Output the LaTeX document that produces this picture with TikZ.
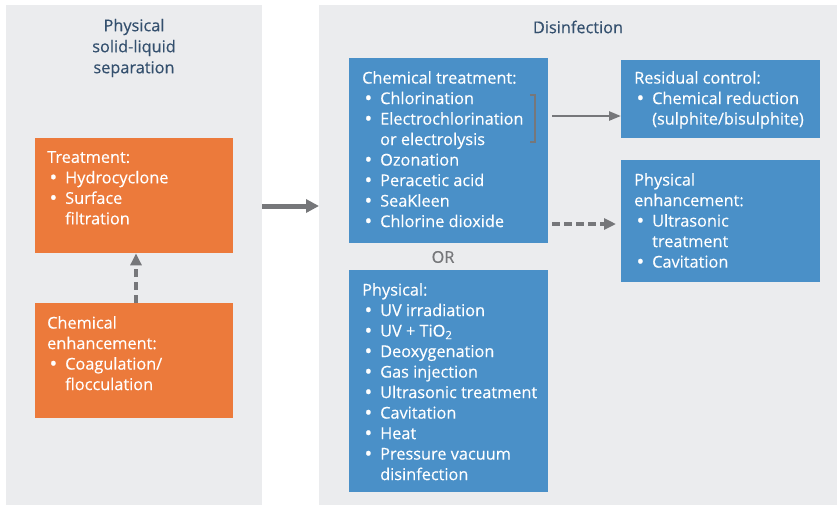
\documentclass[tikz,border=0pt]{standalone}
\usepackage{fontspec}
\usepackage{graphicx}
\setmainfont[FakeBold=0.3]{Open Sans}
\newfontfamily\bulfont[FakeBold=1.6]{Open Sans}
\usetikzlibrary{arrows.meta,positioning}
\definecolor{panelgray}{HTML}{EBECEE}
\definecolor{orangebox}{HTML}{EC7A3B}
\definecolor{bluebox}{HTML}{4A90C8}
\definecolor{arrowgray}{HTML}{76777A}
\definecolor{titleblue}{HTML}{34506E}
\newcommand\bul{\makebox[18pt][l]{\hspace{2.5pt}\smash{\raisebox{-0.8pt}{\scalebox{1.2}{\bulfont •}}}}}
\newcommand\ind{\hspace*{18pt}}
\tikzset{
  panel/.style={fill=panelgray, draw=none, inner sep=0pt, anchor=north west},
  obox/.style={fill=orangebox, draw=none, inner sep=0pt, anchor=north west},
  bbox/.style={fill=bluebox, draw=none, inner sep=0pt, anchor=north west},
  btext/.style={text=white, inner sep=0pt, anchor=north west, align=left, font=\fontsize{16.3}{20.5}\selectfont},
  ttext/.style={text=titleblue, inner sep=0pt, align=center, font=\fontsize{16.3}{21}\selectfont},
  bigarrow/.style={draw=arrowgray, line width=5pt, -{Triangle[length=13pt,width=13pt]}},
  thinarrow/.style={draw=arrowgray, line width=2.5pt, -{Triangle[length=12pt,width=9pt]}},
  dasharrow/.style={draw=arrowgray, line width=4pt, dash pattern=on 8pt off 5pt, -{Triangle[length=12pt,width=11pt]}},
}
\begin{document}
\begin{tikzpicture}[x=1pt,y=-1pt]
\useasboundingbox (0,0) rectangle (837,507);
% panels
\node[panel, minimum width=256pt, minimum height=500pt] (lp) at (6,5) {};
\node[panel, minimum width=518pt, minimum height=500pt] (rp) at (319,5) {};
\node[ttext] (lt) at (134,48) {Physical\\solid-liquid\\separation};
\node[ttext] (rt) at (578,27) {Disinfection};
% orange boxes
\node[obox, minimum width=198pt, minimum height=115pt] (tr) at (35,138) {};
\node[btext] (trt) at ([shift={(12,13)}]tr.north west) {Treatment:\\\bul Hydrocyclone\\\bul Surface\\\ind filtration};
\node[obox, minimum width=198pt, minimum height=115pt] (ce) at (35,303) {};
\node[btext] (cet) at ([shift={(12,13)}]ce.north west) {Chemical\\enhancement:\\\bul Coagulation/\\\ind flocculation};
% blue boxes
\node[bbox, minimum width=199pt, minimum height=185pt] (ct) at (349,58) {};
\node[btext] (ctt) at ([shift={(13,13)}]ct.north west) {Chemical treatment:\\\bul Chlorination\\\bul Electrochlorination\\\ind or electrolysis\\\bul Ozonation\\\bul Peracetic acid\\\bul SeaKleen\\\bul Chlorine dioxide};
\node[text=arrowgray, inner sep=0pt, font=\fontsize{16.3}{18}\selectfont] (or) at (443,257) {OR};
\node[bbox, minimum width=199pt, minimum height=222pt] (ph) at (349,270) {};
\node[btext] (pht) at ([shift={(13,13)}]ph.north west) {Physical:\\\bul UV irradiation\\\bul UV + TiO\textsubscript{2}\\\bul Deoxygenation\\\bul Gas injection\\\bul Ultrasonic treatment\\\bul Cavitation\\\bul Heat\\\bul Pressure vacuum\\\ind disinfection};
\node[bbox, minimum width=199pt, minimum height=78pt] (rc) at (621,60) {};
\node[btext] (rct) at ([shift={(13,11)}]rc.north west) {Residual control:\\\bul Chemical reduction\\\ind (sulphite/bisulphite)};
\node[bbox, minimum width=199pt, minimum height=122pt] (pe) at (621,160) {};
\node[btext] (pet) at ([shift={(13,13)}]pe.north west) {Physical\\enhancement:\\\bul Ultrasonic\\\ind treatment\\\bul Cavitation};
% connectors
\coordinate (a1s) at (262,206);
\coordinate (a1e) at (319,206);
\draw[bigarrow] (a1s) -- (a1e);
\draw[dasharrow] (ce.north -| 136,0) -- (tr.south -| 136,0);
\coordinate (bra) at (530,95);
\coordinate (brb) at (530,142);
\draw[arrowgray, line width=1.5pt] (bra) -- ++(5,0) -- ([xshift=5pt]brb) -- (brb);
\coordinate (a2s) at (552,116);
\draw[thinarrow] (a2s) -- (rc.west |- a2s);
\coordinate (a3s) at (552,224);
\draw[dasharrow, line width=3.5pt, dash pattern=on 8pt off 4pt] (a3s) -- ([xshift=-5pt]pe.west |- a3s);
\end{tikzpicture}
\end{document}
